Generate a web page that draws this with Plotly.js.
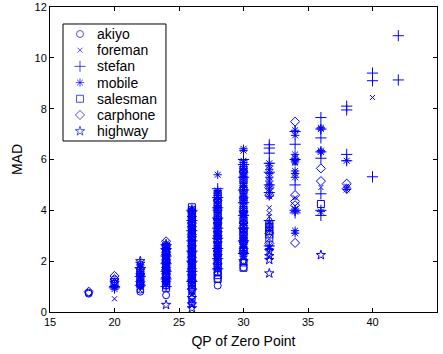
<!DOCTYPE html>
<html><head><meta charset="utf-8">
<script src="https://cdn.plot.ly/plotly-3.0.1.min.js"></script>
<style>html,body{margin:0;padding:0;background:#fff}#chart{width:443px;height:354px}</style>
</head><body><div id="chart"></div>
<script>
// Data: QP levels and MAD values per sequence
const akiyoQP = [18, 20, 22, 24, 26, 28, 30];
const akiyoMAD = [[0.72,0.76],[1.2,1.28],[0.8,0.88,1.1],[0.66,1.05,1.2],[0.35,0.5,0.65,0.8,0.95,1.1,1.3],[1.04,1.3,1.55],[1.75,2.0]];

const foremanQP = [20, 22, 24, 26, 28, 30, 32, 34, 36, 38, 40];
const foremanMAD = [[0.52,0.95],[0.85,1.3],[1.15,1.45,1.8,2.15,2.5],[0.25,0.45,0.7,1.5,2.0,2.5,3.0,3.5,3.9],[1.8,2.3,2.8,3.3,3.7,4.2],[2.1,2.6,3.2,3.8,4.4,5.0,5.5],[2.15,2.35,3.55,3.75,3.9,4.1],[4.5,5.85],[4.9],[4.95],[8.44]];

const stefanQP = [20, 22, 24, 26, 28, 30, 32, 34, 36, 38, 40, 42];
const stefanMAD = [[0.95,1.0],[1.05,1.4,1.75],[1.0,1.3,1.6,1.9,2.2,2.5,2.65],[1.2,1.6,2.0,2.4,2.8,3.2,3.6,4.0],[1.7,2.1,2.5,2.9,3.3,3.7,4.1,4.5,4.85],[2.3,2.8,3.3,3.8,4.3,4.8,5.3,5.8,6.0],[2.6,3.6,4.7,5.0,5.5,5.85,6.25,6.45,6.58],[3.9,4.0,5.0,6.0,6.6,7.1],[3.8,4.0,4.65,6.05,6.3,6.85,7.2,7.65],[5.95,6.2,7.95,8.1],[5.32,9.1,9.4],[9.13,10.87]];

const mobileQP = [20, 22, 24, 26, 28, 30, 32, 34, 36, 38];
const mobileMAD = [
  [0.9,1.0,1.05],
  [1.0,1.08,1.15,1.22,1.3,1.38,1.45,1.52,1.6,1.68,1.75,1.85],
  [1.1,1.18,1.25,1.33,1.4,1.47,1.55,1.62,1.7,1.78,1.85,1.92,2.0,2.08,2.15,2.22,2.3,2.38,2.45,2.52,2.6,2.66,2.7],
  [1.05,1.12,1.2,1.28,1.35,1.42,1.5,1.58,1.65,1.72,1.8,1.88,1.95,2.02,2.1,2.18,2.25,2.32,2.4,2.48,2.55,2.62,2.7,2.78,2.85,2.92,3.0,3.08,3.15,3.22,3.3,3.38,3.45,3.52,3.6,3.68,3.75,3.82,3.9,3.98,4.05],
  [1.65,1.72,1.8,1.88,1.95,2.02,2.1,2.18,2.25,2.32,2.4,2.48,2.55,2.62,2.7,2.78,2.85,2.92,3.0,3.08,3.15,3.22,3.3,3.38,3.45,3.52,3.6,3.68,3.75,3.82,3.9,3.98,4.05,4.12,4.2,4.28,4.35,4.42,4.5,4.58,4.65,4.72,4.78,5.4],
  [2.2,2.28,2.35,2.42,2.5,2.58,2.65,2.72,2.8,2.88,2.95,3.02,3.1,3.18,3.25,3.32,3.4,3.48,3.55,3.62,3.7,3.78,3.85,3.92,4.0,4.08,4.15,4.22,4.3,4.38,4.45,4.52,4.6,4.68,4.75,4.82,4.9,4.98,5.05,5.12,5.2,5.28,5.35,5.42,5.5,5.58,5.65,5.72,5.8,5.88,5.95,6.35,6.42],
  [2.5,2.6,3.2,3.35,3.5,4.55,4.7,4.85,5.0,5.15,5.3,5.45,5.6,5.75,5.85],
  [3.1,3.2,3.95,4.05,5.3,5.45,5.55,5.9,5.95,6.05,6.2,6.95,7.15],
  [3.95,6.3,6.35,7.2,7.25],
  [4.82,5.95]];

const salesmanQP = [20, 22, 24, 26, 28, 30, 32, 36];
const salesmanMAD = [
  [1.1],
  [1.1,1.4,1.6],
  [0.95,1.05,1.2,1.35,1.5,1.65,1.8,1.95,2.1,2.25,2.4,2.55],
  [1.0,1.15,1.3,1.45,1.6,1.75,1.9,2.05,2.2,2.35,2.5,2.65,2.8,2.95,3.1,3.25,3.4,3.55,3.7,3.85,4.0,4.12],
  [1.3,1.45,1.6,1.8,2.0,2.3,2.6,2.9,3.2,3.5,3.8,4.05,4.3,4.6],
  [1.74,1.95,2.4,2.8,3.0,3.15,3.3,3.6,4.0,4.4,4.8,5.2,5.6],
  [2.9,3.05,3.2,3.35,3.45],
  [4.25]];

const carphoneQP = [18, 20, 22, 24, 26, 28, 30, 32, 34, 36, 38];
const carphoneMAD = [[0.8],[1.3,1.42],[1.2,1.5,1.7],[1.2,1.5,1.75,2.05,2.35,2.6,2.78],[0.9,1.25,1.7,2.15,2.6,3.05,3.5,3.95],[1.9,2.4,3.0,3.5,4.0,4.4],[2.5,3.5,4.5,5.5],[2.7,3.1,4.6,4.9],[2.72,4.2,4.35,4.6,7.49],[5.15,5.65],[4.85,5.05]];

const highwayQP = [20, 22, 24, 26, 28, 30, 32, 36];
const highwayMAD = [[1.15],[1.9,2.0],[0.28,1.3,1.6,1.9,2.2,2.4],[0.15,0.3,0.55,0.85,1.4,1.9,2.3,2.9,3.3,3.7],[2.2,2.7,3.1,3.6],[2.0,2.3,2.7,3.9],[1.52,2.05,2.2,2.4],[2.24]];

const seriesNames = ['akiyo','foreman','stefan','mobile','salesman','carphone','highway'];
const seriesQP = [akiyoQP, foremanQP, stefanQP, mobileQP, salesmanQP, carphoneQP, highwayQP];
const seriesMAD = [akiyoMAD, foremanMAD, stefanMAD, mobileMAD, salesmanMAD, carphoneMAD, highwayMAD];
const symbols = ['circle-open','x-thin-open','cross-thin-open','asterisk-open','square-open','diamond-open','star-open'];
const sizes = [7, 5, 8, 7, 7, 7, 7];
const BLUE = '#0000ff';

const traces = seriesNames.map((name, i) => {
  const x = [], y = [];
  seriesQP[i].forEach((q, j) => { seriesMAD[i][j].forEach(v => { x.push(q); y.push(v); }); });
  return {
    type: 'scatter', mode: 'markers', name: name, x: x, y: y, showlegend: false,
    marker: {symbol: symbols[i], size: sizes[i], color: BLUE, line: {color: BLUE, width: 1}}
  };
});

// Legend (MATLAB-style box) drawn in an overlay axis spanning [0,1] of the plot area
const legX0 = 0.0336, legX1 = 0.2997, legY0 = 0.5607, legY1 = 0.9443;
const keyX = 0.0775, textX = 0.1163, firstY = 0.9115, stepY = 0.0531;
const keyYs = seriesNames.map((n, i) => firstY - i * stepY);
traces.push({
  type: 'scatter', mode: 'markers', xaxis: 'x2', yaxis: 'y2', showlegend: false, hoverinfo: 'skip',
  x: seriesNames.map(() => keyX), y: keyYs,
  marker: {symbol: symbols, size: sizes, color: BLUE, line: {color: BLUE, width: 1}}
});
const annotations = seriesNames.map((n, i) => ({
  text: n, xref: 'x2', yref: 'y2', x: textX, y: keyYs[i], xanchor: 'left', yanchor: 'middle',
  showarrow: false, font: {family: 'Liberation Sans, Arial, sans-serif', size: 14, color: '#000000'}
}));

const font = 'Liberation Sans, Arial, sans-serif';
const layout = {
  width: 443, height: 354,
  margin: {l: 50, r: 6, t: 7, b: 42},
  paper_bgcolor: '#ffffff', plot_bgcolor: '#ffffff',
  font: {family: font, color: '#000000', size: 11},
  showlegend: false,
  shapes: [{type: 'rect', xref: 'x2', yref: 'y2', x0: legX0, x1: legX1, y0: legY0, y1: legY1,
            line: {color: '#000000', width: 1}, fillcolor: '#ffffff', layer: 'below'}],
  annotations: annotations,
  xaxis: {
    range: [15, 45], dtick: 5, tick0: 15, showgrid: false, zeroline: false,
    showline: true, linecolor: '#000000', linewidth: 1, mirror: 'ticks',
    ticks: 'inside', ticklen: 4, tickcolor: '#000000',
    tickfont: {family: font, size: 11, color: '#000000'},
    title: {text: 'QP of Zero Point', font: {family: font, size: 14, color: '#000000'}, standoff: 8}
  },
  yaxis: {
    range: [0, 12], dtick: 2, tick0: 0, showgrid: false, zeroline: false,
    showline: true, linecolor: '#000000', linewidth: 1, mirror: 'ticks',
    ticks: 'inside', ticklen: 4, tickcolor: '#000000',
    tickfont: {family: font, size: 11, color: '#000000'},
    title: {text: 'MAD', font: {family: font, size: 14, color: '#000000'}, standoff: 8}
  },
  xaxis2: {overlaying: 'x', range: [0, 1], visible: false, fixedrange: true},
  yaxis2: {overlaying: 'y', range: [0, 1], visible: false, fixedrange: true}
};

Plotly.newPlot('chart', traces, layout, {displayModeBar: false, staticPlot: true});
</script></body></html>
